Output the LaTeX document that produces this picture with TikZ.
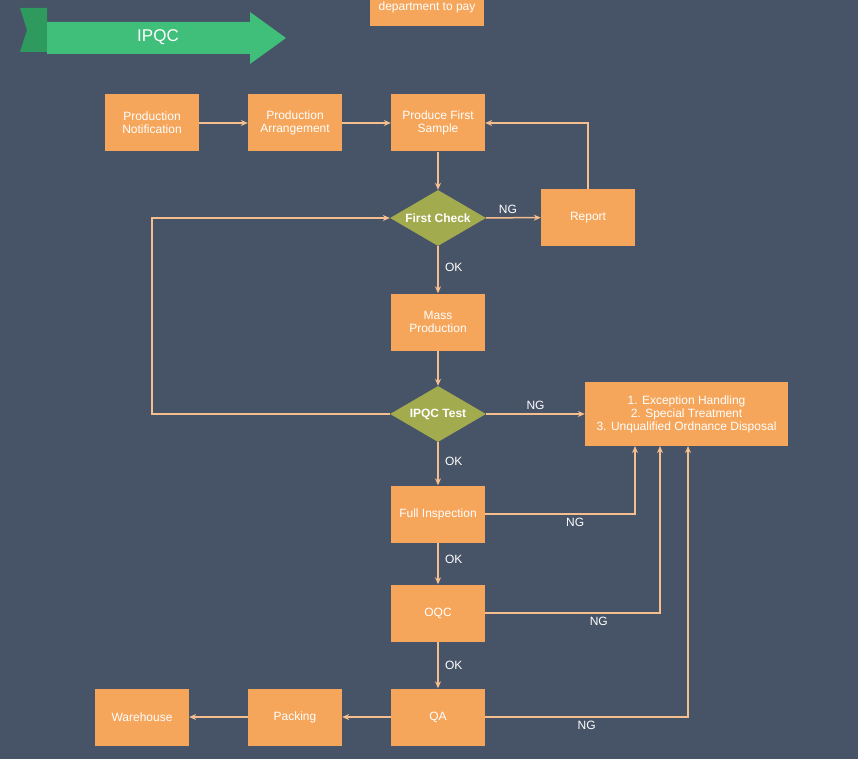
\documentclass[tikz,border=0pt]{standalone}
\usepackage{fontspec}
\setmainfont{Liberation Sans}
\usetikzlibrary{shapes.geometric,arrows.meta}
\definecolor{bg}{HTML}{475366}
\definecolor{box}{HTML}{F5A65B}
\definecolor{dia}{HTML}{A3AB4F}
\definecolor{ln}{HTML}{F5BE8E}
\definecolor{gA}{HTML}{3FBF7A}
\definecolor{gB}{HTML}{2E9A5E}
\begin{document}
\begin{tikzpicture}[x=1pt,y=-1pt,
 bx/.style={fill=box,draw=none,text=white,minimum width=94pt,minimum height=57pt,align=center,font=\fontsize{12}{13}\selectfont},
 dm/.style={diamond,fill=dia,draw=none,text=white,minimum width=96pt,minimum height=56pt,inner sep=0pt,aspect=1.7,font=\bfseries\fontsize{12}{13}\selectfont},
 ar/.style={draw=ln,line width=1.5pt,-{Stealth[length=7pt,width=6pt]}},
 lb/.style={text=white,font=\fontsize{12}{13}\selectfont}]
\fill[bg] (0,0) rectangle (858,759);
\useasboundingbox (0,0) rectangle (858,759);
% banner
\fill[gB] (20,8) -- (47,8) -- (47,52) -- (20,52) -- (27,30) -- cycle;
\fill[gA] (47,22) -- (250,22) -- (250,12) -- (286,38) -- (250,64) -- (250,54) -- (47,54) -- cycle;
\node[text=white,font=\fontsize{17}{18}\selectfont] (title) at (158,37) {IPQC};
\node[bx,minimum width=114pt,minimum height=30pt,anchor=south] (top) at (427,26) {};
\node[text=white,font=\fontsize{12}{13}\selectfont] (toptxt) at (427,7) {department to pay};
% nodes
\node[bx] (pn) at (152,123) {Production\\Notification};
\node[bx] (pa) at (295,123) {Production\\Arrangement};
\node[bx] (pf) at (438,123) {Produce First\\Sample};
\node[dm] (fc) at (438,218) {First Check};
\node[bx] (rp) at (588,217.5) {Report};
\node[bx] (mp) at (438,322) {Mass\\Production};
\node[dm] (it) at (438,414) {IPQC Test};
\node[bx,minimum width=203pt,minimum height=64pt] (ex) at (686.5,414) {1. Exception Handling\\2. Special Treatment\\3. Unqualified Ordnance Disposal};
\node[bx] (fi) at (438,514) {Full Inspection};
\node[bx] (oq) at (438,613) {OQC};
\node[bx] (qa) at (438,717) {QA};
\node[bx] (pk) at (295,717) {Packing};
\node[bx] (wh) at (142,717) {Warehouse};
% connectors
\draw[ar] (pn) -- (pa);
\draw[ar] (pa) -- (pf);
\draw[ar] (pf) -- (fc);
\draw[ar] (fc) -- node[lb,above,pos=0.4]{NG} (rp);
\draw[ar] (rp.north) -- (588,123) -- (pf.east);
\draw[ar] (fc) -- node[lb,right,pos=0.45,xshift=3pt]{OK} (mp);
\draw[ar] (mp) -- (it);
\draw[ar] (it.west) -- (152,414) -- (152,218) -- (fc.west);
\draw[ar] (it.east) -- node[lb,above,pos=0.5]{NG} (ex.west);
\draw[ar] (it) -- node[lb,right,pos=0.45,xshift=3pt]{OK} (fi);
\draw[ar] (fi.east) -- node[lb,below,pos=0.6]{NG} (635,514) -- (635,446);
\draw[ar] (fi) -- node[lb,right,pos=0.4,xshift=3pt]{OK} (oq);
\draw[ar] (oq.east) -- node[lb,below,pos=0.65]{NG} (660,613) -- (660,446);
\draw[ar] (oq) -- node[lb,right,pos=0.5,xshift=3pt]{OK} (qa);
\draw[ar] (qa.east) -- node[lb,below,pos=0.5]{NG} (688,717) -- (688,446);
\draw[ar] (qa) -- (pk);
\draw[ar] (pk) -- (wh);
\end{tikzpicture}
\end{document}
